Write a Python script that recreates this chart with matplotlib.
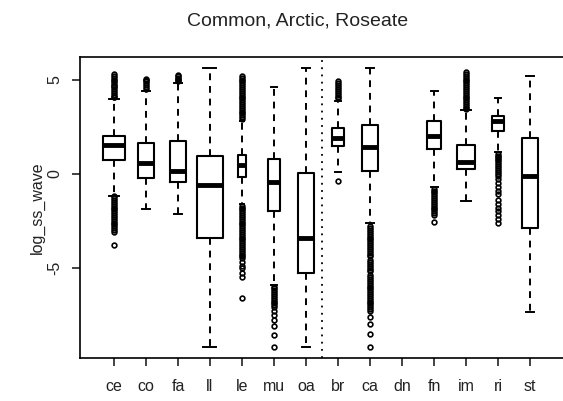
import matplotlib
matplotlib.use('Agg')
import matplotlib.pyplot as plt

plt.rcParams['font.family'] = ['Liberation Sans', 'DejaVu Sans']

title = 'Common, Arctic, Roseate'
ylab = 'log_ss_wave'
groups = 'ce co fa ll le mu oa br ca dn fn im ri st'.split()

# box stats per group (dn has no data)
q1     = dict(ce=0.74, co=-0.21, fa=-0.43, ll=-3.40, le=-0.16, mu=-1.97, oa=-5.27,
              br=1.49, ca=0.16, fn=1.30, im=0.27, ri=2.25, st=-2.90)
med    = dict(ce=1.54, co=0.58, fa=0.16, ll=-0.59, le=0.48, mu=-0.43, oa=-3.40,
              br=1.91, ca=1.43, fn=2.00, im=0.60, ri=2.78, st=-0.15)
q3     = dict(ce=2.02, co=1.65, fa=1.76, ll=0.96, le=1.00, mu=0.80, oa=0.05,
              br=2.45, ca=2.60, fn=2.80, im=1.50, ri=3.07, st=1.88)
whislo = dict(ce=-1.17, co=-1.86, fa=-2.13, ll=-9.20, le=-1.60, mu=-5.90, oa=-9.20,
              br=0.08, ca=-2.65, fn=-0.72, im=-1.45, ri=1.15, st=-7.35)
whishi = dict(ce=3.98, co=4.40, fa=4.80, ll=5.64, le=2.80, mu=4.60, oa=5.64,
              br=3.85, ca=5.64, fn=4.40, im=3.38, ri=4.00, st=5.20)
# relative box widths (varwidth)
bwidth = dict(ce=0.67, co=0.49, fa=0.49, ll=0.81, le=0.25, mu=0.37, oa=0.53,
              br=0.37, ca=0.47, fn=0.44, im=0.59, ri=0.38, st=0.48)

fliers = dict(
  ce=[4.05, 4.1, 4.2, 4.3, 4.4, 4.5, 4.6, 4.65, 4.7, 4.8, 4.9, 5.0, 5.1, 5.2, 5.3,
      -1.2, -1.3, -1.4, -1.5, -1.6, -1.7, -1.8, -1.9, -2.0, -2.1, -2.2, -2.3, -2.4,
      -2.5, -2.6, -2.7, -2.8, -2.9, -3.0, -3.1, -3.8],
  co=[4.5, 4.6, 4.7, 4.8, 4.9, 5.0, 5.05],
  fa=[4.9, 5.0, 5.05, 5.1, 5.2, 5.25],
  ll=[],
  le=[2.9, 3.0, 3.1, 3.2, 3.3, 3.4, 3.5, 3.6, 3.7, 3.8, 3.9, 4.0, 4.1, 4.2, 4.3,
      4.4, 4.5, 4.6, 4.7, 4.8, 4.9, 5.0, 5.1, 5.2,
      -1.7, -1.8, -1.9, -2.0, -2.1, -2.2, -2.3, -2.4, -2.5, -2.6, -2.7, -2.8, -2.9,
      -3.0, -3.1, -3.2, -3.3, -3.4, -3.5, -3.6, -3.7, -3.8, -3.9, -4.0, -4.1, -4.2,
      -4.3, -4.4, -4.5, -4.7, -4.9, -5.0, -5.3, -5.5, -6.6],
  mu=[-6.0, -6.1, -6.2, -6.3, -6.4, -6.5, -6.6, -6.7, -6.8, -6.9, -7.0, -7.1,
      -7.3, -7.5, -7.8, -8.1, -8.6, -9.2],
  oa=[],
  br=[4.0, 4.1, 4.2, 4.3, 4.4, 4.5, 4.6, 4.7, 4.8, 4.9, -0.4],
  ca=[-2.8, -2.9, -3.0, -3.1, -3.2, -3.3, -3.4, -3.5, -3.6, -3.7, -3.8, -3.9, -4.0,
      -4.1, -4.2, -4.3, -4.4, -4.6, -4.7, -4.8, -4.9, -5.0, -5.1, -5.2, -5.4, -5.5,
      -5.6, -5.7, -5.8, -5.9, -6.0, -6.1, -6.2, -6.3, -6.4, -6.5, -6.6, -6.7, -6.8,
      -6.9, -7.0, -7.1, -7.2, -7.3, -7.6, -8.0, -8.5, -9.2],
  fn=[-0.8, -0.9, -1.0, -1.1, -1.2, -1.3, -1.4, -1.5, -1.6, -1.7, -1.8, -1.9,
      -2.0, -2.1, -2.2, -2.55],
  im=[3.45, 3.5, 3.6, 3.7, 3.8, 3.9, 4.0, 4.1, 4.2, 4.3, 4.4, 4.5, 4.6, 4.7, 4.8,
      4.9, 5.0, 5.1, 5.2, 5.3, 5.4],
  ri=[1.05, 0.95, 0.9, 0.8, 0.7, 0.6, 0.5, 0.4, 0.3, 0.2, 0.1, 0.0, -0.1, -0.3,
      -0.5, -0.7, -0.9, -1.1, -1.4, -1.6, -1.8, -2.0, -2.2, -2.4, -2.65],
  st=[],
)

fig = plt.figure(figsize=(5.63, 4.01), dpi=100)
ax = fig.add_axes([80/563, 1-358/401, 484/563, 301/401])

stats, pos, widths = [], [], []
for n, g in enumerate(groups):
    if g not in med:
        continue
    stats.append(dict(med=med[g], q1=q1[g], q3=q3[g], whislo=whislo[g],
                      whishi=whishi[g], fliers=fliers[g]))
    pos.append(n+1)
    widths.append(bwidth[g])

ax.bxp(stats, positions=pos, widths=widths, capwidths=[0.5*w for w in widths],
       boxprops=dict(color='black', lw=1.5),
       medianprops=dict(color='black', lw=3.5, solid_capstyle='butt'),
       whiskerprops=dict(color='black', lw=1.4, ls=(0, (3.5, 3))),
       capprops=dict(color='black', lw=1.4),
       flierprops=dict(marker='o', mfc='none', mec='black', ms=3.4, mew=1.2),
       manage_ticks=False)

ax.axvline(7.5, color='black', lw=1.3, ls=(0, (1, 3)))

ax.set_xlim(-0.06, 15.06)
ax.set_ylim(-9.8, 6.2)
ax.set_xticks(range(1, len(groups)+1))
ax.set_xticklabels(groups)
ax.set_yticks([-5, 0, 5])
ax.set_yticklabels(['-5', '0', '5'], rotation=90, va='center')
ax.tick_params(axis='x', length=6, width=1.2, pad=9, labelsize=11.5, colors='#222222')
ax.tick_params(axis='y', length=6, width=1.2, pad=7, labelsize=11.5, colors='#222222')
ax.spines['right'].set_visible(False)
for sp in ['left', 'bottom', 'top']:
    ax.spines[sp].set_linewidth(1.2)

fig.text(298/563, 1-21/401, title, ha='center', va='center', fontsize=14, color='#222222')
fig.text(37/563, 1-208/401, ylab, ha='center', va='center', rotation=90,
         fontsize=11.5, color='#222222')

plt.savefig('out.png')
